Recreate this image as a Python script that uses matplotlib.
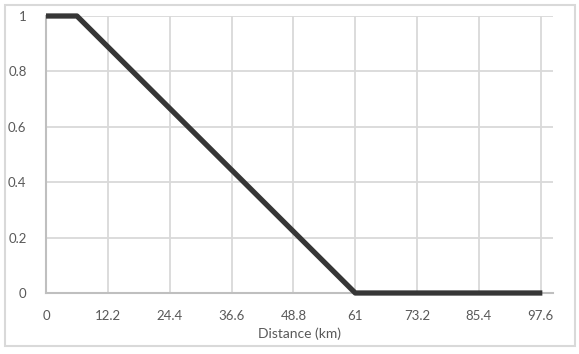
import matplotlib
matplotlib.use("Agg")
import matplotlib.pyplot as plt
from matplotlib.patches import Rectangle

distance_km = [0, 6.1, 61, 97.9]
probability = [1, 1, 0, 0]
x_ticks = [0, 12.2, 24.4, 36.6, 48.8, 61, 73.2, 85.4, 97.6]
x_tick_labels = ["0", "12.2", "24.4", "36.6", "48.8", "61", "73.2", "85.4", "97.6"]
y_ticks = [0, 0.2, 0.4, 0.6, 0.8, 1]
y_tick_labels = ["0", "0.2", "0.4", "0.6", "0.8", "1"]

plt.rcParams['font.family'] = ['Lato', 'DejaVu Sans']
W, H = 579, 354
fig = plt.figure(figsize=(W/100, H/100), dpi=100)
fig.patches.append(Rectangle((5/W, 1 - 346/H), (575-5)/W, (346-5)/H, transform=fig.transFigure,
                             fill=False, edgecolor='#d9d9d9', linewidth=1.5))
left, right, top, bottom = 46, 553, 16, 293
ax = fig.add_axes([left/W, 1 - bottom/H, (right-left)/W, (bottom-top)/H])
ax.set_xlim(0, 100)
ax.set_ylim(0, 1)
ax.set_xticks(x_ticks)
ax.set_xticklabels(x_tick_labels)
ax.set_yticks(y_ticks)
ax.set_yticklabels(y_tick_labels)
ax.grid(True, color='#d9d9d9', linewidth=1.3)
ax.set_axisbelow(True)
for s in ['top', 'right']:
    ax.spines[s].set_visible(False)
for s in ['left', 'bottom']:
    ax.spines[s].set_color('#bfbfbf')
    ax.spines[s].set_linewidth(1.5)
ax.tick_params(length=0, colors='#595959', labelsize=9.5)
ax.tick_params(axis='x', pad=12)
ax.tick_params(axis='y', pad=14)
ax.plot(distance_km, probability, color='#363636', linewidth=3.8, solid_capstyle='butt', clip_on=False, zorder=3)
ax.set_xlabel("Distance (km)", color='#595959', fontsize=10, labelpad=4)
fig.savefig("out.png", dpi=100)
